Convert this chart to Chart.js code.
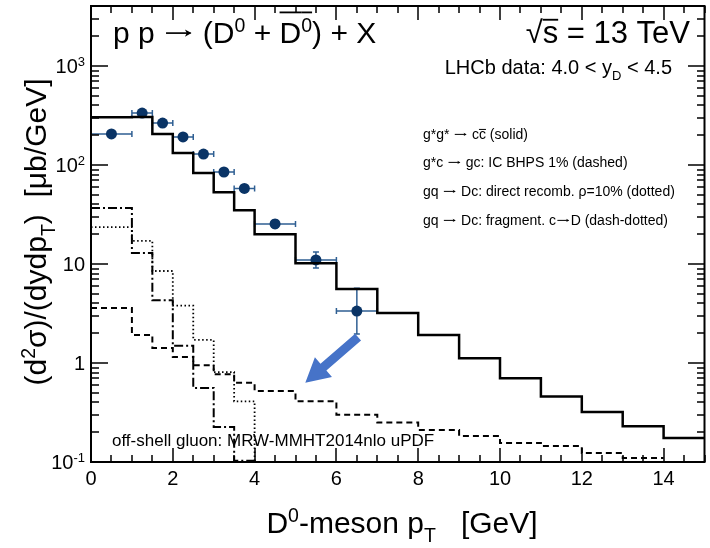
<!DOCTYPE html>
<html>
<head>
<meta charset="utf-8">
<script src="https://cdn.jsdelivr.net/npm/chart.js@4.4.1/dist/chart.umd.min.js"></script>
<style>
  body { margin: 0; background: #fff; }
  canvas { display: block; }
</style>
</head>
<body>
<canvas id="chart" width="710" height="548"></canvas>
<script>
// bin edges in GeV
const edges = [0, 1, 1.5, 2, 2.5, 3, 3.5, 4, 5, 6, 7, 8, 9, 10, 11, 12, 13, 14, 15];

// g*g* -> c cbar (solid)
const solidVals = [303, 305, 206, 132, 83, 53, 35, 20, 10.2, 5.6, 3.2, 1.92, 1.12, 0.70, 0.46, 0.32, 0.23, 0.175];
// g*c -> gc, IC BHPS 1% (dashed)
const dashedVals = [3.6, 1.92, 1.42, 1.15, 0.95, 0.77, 0.63, 0.52, 0.41, 0.30, 0.25, 0.21, 0.183, 0.156, 0.145, 0.123, 0.11];
// gq -> Dc direct recombination (dotted)
const dottedVals = [23.6, 17.1, 8.5, 3.8, 1.71, 0.81, 0.41, 0.01];
// gq -> Dc fragmentation (dash-dotted)
const dashDotVals = [36.8, 12.9, 4.3, 1.49, 0.56, 0.226, 0.103, 0.01];

// LHCb data points
const dataX = [0.5, 1.25, 1.75, 2.25, 2.75, 3.25, 3.75, 4.5, 5.5, 6.5];
const dataY = [206, 335, 265, 192, 129, 85, 58, 25.4, 11, 3.35];
const dataXErr = [0.5, 0.25, 0.25, 0.25, 0.25, 0.25, 0.25, 0.5, 0.5, 0.5];
const dataYErrLo = [12, 20, 16, 11, 8, 5, 3.5, 2.0, 1.9, 1.39];
const dataYErrHi = [12, 20, 16, 11, 8, 5, 3.5, 2.2, 2.2, 2.35];

// axis ticks
const xTicks = [0, 2, 4, 6, 8, 10, 12, 14];
const yTicks = [0.1, 1, 10, 100, 1000];
const yTickLabels = [['10', '-1'], ['1', ''], ['10', ''], ['10', '2'], ['10', '3']];

// arrow annotation (data units)
const arrowFrom = { x: 6.53, y: 1.83 };
const arrowTo = { x: 5.24, y: 0.63 };

const FONT = '"Liberation Sans", Arial, Helvetica, sans-serif';

function histPoints(vals) {
  const pts = vals.map((v, i) => ({ x: edges[i], y: v }));
  pts.push({ x: edges[vals.length], y: vals[vals.length - 1] });
  return pts;
}

// parts: [text, mode, overline]; mode '' | 'sup' | 'sub' | 'arr'
function rich(ctx, parts, x, y, size, align) {
  const info = parts.map(p => {
    const s = (p[1] === 'sup' || p[1] === 'sub') ? size * 0.65 : size;
    ctx.font = s + 'px ' + FONT;
    const w = p[1] === 'arr' ? size * 1.05 : ctx.measureText(p[0]).width;
    return { s: s, w: w };
  });
  const total = info.reduce((a, b) => a + b.w, 0);
  let cx = align === 'right' ? x - total : (align === 'center' ? x - total / 2 : x);
  ctx.textAlign = 'left';
  ctx.textBaseline = 'alphabetic';
  parts.forEach((p, i) => {
    ctx.font = info[i].s + 'px ' + FONT;
    if (p[1] === 'arr') {
      const ay = y - size * 0.33, x0 = cx + size * 0.1, x1 = cx + size * 0.95;
      const lw = Math.max(1, size * 0.055);
      ctx.fillRect(x0, ay - lw / 2, x1 - x0 - 1, lw);
      ctx.beginPath();
      ctx.moveTo(x1, ay);
      ctx.lineTo(x1 - size * 0.22, ay - size * 0.12);
      ctx.lineTo(x1 - size * 0.16, ay);
      ctx.lineTo(x1 - size * 0.22, ay + size * 0.12);
      ctx.closePath();
      ctx.fill();
      cx += info[i].w;
      return;
    }
    let dy = 0;
    if (p[1] === 'sup') dy = -size * 0.36;
    if (p[1] === 'sub') dy = size * 0.3;
    ctx.fillText(p[0], cx, y + dy);
    if (p[2]) {
      ctx.fillRect(cx, y - size * p[2], info[i].w, Math.max(1, size * 0.06));
    }
    cx += info[i].w;
  });
}

// inside tick marks on all four sides
function drawFrameTicks(ctx, chart) {
  const xs = chart.scales.x, ys = chart.scales.y, a = chart.chartArea;
  const left = Math.round(a.left), right = Math.round(a.right);
  const top = Math.round(a.top), bottom = Math.round(a.bottom);
  const tw = 1.5;
  ctx.fillStyle = '#000';
  for (let k = 0; k <= 30; k++) {
    const px = Math.round(xs.getPixelForValue(k * 0.5));
    const L = (k % 4 === 0) ? 14 : 7;
    ctx.fillRect(px - tw / 2, bottom - L, tw, L);
    ctx.fillRect(px - tw / 2, top, tw, L);
  }
  const decades = [0.1, 1, 10, 100, 1000];
  decades.forEach(d => {
    for (let m = 1; m <= 9; m++) {
      const v = m * d;
      if (v > 4040) break;
      const py = Math.round(ys.getPixelForValue(v));
      const L = m === 1 ? 17 : 8;
      ctx.fillRect(left, py - tw / 2, L, tw);
      ctx.fillRect(right - L, py - tw / 2, L, tw);
    }
  });
}

const rootStyle = {
  id: 'rootStyle',
  beforeDatasetDraw(chart, args) {
    if (args.index !== 4) return;
    const ctx = chart.ctx, xs = chart.scales.x, ys = chart.scales.y;
    const a = chart.chartArea;
    ctx.save();
    ctx.beginPath();
    ctx.rect(a.left, a.top, a.right - a.left, a.bottom - a.top);
    ctx.clip();
    ctx.strokeStyle = '#2f5f93';
    ctx.lineWidth = 1.5;
    dataX.forEach((xv, i) => {
      const px = xs.getPixelForValue(xv), py = ys.getPixelForValue(dataY[i]);
      const x0 = xs.getPixelForValue(xv - dataXErr[i]), x1 = xs.getPixelForValue(xv + dataXErr[i]);
      const y0 = ys.getPixelForValue(dataY[i] - dataYErrLo[i]), y1 = ys.getPixelForValue(dataY[i] + dataYErrHi[i]);
      ctx.beginPath();
      ctx.moveTo(x0, py); ctx.lineTo(x1, py);
      ctx.moveTo(x0, py - 3); ctx.lineTo(x0, py + 3);
      ctx.moveTo(x1, py - 3); ctx.lineTo(x1, py + 3);
      ctx.moveTo(px, y0); ctx.lineTo(px, y1);
      ctx.moveTo(px - 3, y0); ctx.lineTo(px + 3, y0);
      ctx.moveTo(px - 3, y1); ctx.lineTo(px + 3, y1);
      ctx.stroke();
    });
    ctx.restore();
  },
  afterDraw(chart) {
    const ctx = chart.ctx, xs = chart.scales.x, ys = chart.scales.y;
    const a = chart.chartArea;
    ctx.save();
    ctx.setLineDash([]);
    ctx.fillStyle = '#000';
    ctx.strokeStyle = '#000';

    // arrow
    const ax0 = xs.getPixelForValue(arrowFrom.x), ay0 = ys.getPixelForValue(arrowFrom.y);
    const ax1 = xs.getPixelForValue(arrowTo.x), ay1 = ys.getPixelForValue(arrowTo.y);
    const len = Math.hypot(ax1 - ax0, ay1 - ay0);
    const ux = (ax1 - ax0) / len, uy = (ay1 - ay0) / len, nx = -uy, ny = ux;
    const hl = 24, hw = 13, sw = 4.5;
    const bx = ax1 - ux * hl, by = ay1 - uy * hl;
    ctx.fillStyle = '#4673c8';
    ctx.beginPath();
    ctx.moveTo(ax0 + nx * sw, ay0 + ny * sw);
    ctx.lineTo(bx + nx * sw, by + ny * sw);
    ctx.lineTo(bx + nx * hw, by + ny * hw);
    ctx.lineTo(ax1, ay1);
    ctx.lineTo(bx - nx * hw, by - ny * hw);
    ctx.lineTo(bx - nx * sw, by - ny * sw);
    ctx.lineTo(ax0 - nx * sw, ay0 - ny * sw);
    ctx.closePath();
    ctx.fill();
    ctx.fillStyle = '#000';

    // frame
    ctx.lineWidth = 2;
    ctx.strokeRect(a.left, a.top, a.right - a.left, a.bottom - a.top);

    drawFrameTicks(ctx, chart);
    ctx.fillStyle = '#000';

    // tick labels
    ctx.font = '20px ' + FONT;
    ctx.textAlign = 'center';
    ctx.textBaseline = 'alphabetic';
    xTicks.forEach(v => ctx.fillText(String(v), xs.getPixelForValue(v), 485));
    yTicks.forEach((v, i) => {
      const py = ys.getPixelForValue(v);
      rich(ctx, [[yTickLabels[i][0], ''], [yTickLabels[i][1], 'sup']], 85, py + 7, 20, 'right');
    });

    // axis titles
    rich(ctx, [['D', ''], ['0', 'sup'], ['-meson p', ''], ['T', 'sub'], ['   [GeV]', '']], 402, 533, 30, 'center');
    ctx.save();
    ctx.translate(46, 232);
    ctx.rotate(-Math.PI / 2);
    rich(ctx, [['(d', ''], ['2', 'sup'], ['\u03c3)/(dydp', ''], ['T', 'sub'], [')  [\u03bcb/GeV]', '']], 0, 0, 30, 'center');
    ctx.restore();

    // header texts
    rich(ctx, [['p p ', ''], ['\u2192', 'arr'], [' (D', ''], ['0', 'sup'], [' + ', ''], ['D', '', 1.05], ['0', 'sup', 1.05], [') + X', '']], 113, 43, 30, 'left');
    rich(ctx, [['\u221a', ''], ['s', '', 0.78], [' = 13 TeV', '']], 690, 43, 31, 'right');
    rich(ctx, [['LHCb data: 4.0 < y', ''], ['D', 'sub'], [' < 4.5', '']], 672, 74, 20, 'right');

    // legend
    const lx = 423, fs = 14;
    rich(ctx, [['g*g* ', ''], ['\u2192', 'arr'], [' c', ''], ['c', '', 0.72], [' (solid)', '']], lx, 139, fs, 'left');
    rich(ctx, [['g*c ', ''], ['\u2192', 'arr'], [' gc: IC BHPS 1% (dashed)', '']], lx, 167, fs, 'left');
    rich(ctx, [['gq ', ''], ['\u2192', 'arr'], [' Dc: direct recomb. \u03c1=10% (dotted)', '']], lx, 196, fs, 'left');
    rich(ctx, [['gq ', ''], ['\u2192', 'arr'], [' Dc: fragment. c', ''], ['\u2192', 'arr'], ['D (dash-dotted)', '']], lx, 225, fs, 'left');

    rich(ctx, [['off-shell gluon: MRW-MMHT2014nlo uPDF', '']], 112, 446, 17, 'left');
    ctx.restore();
  }
};

new Chart(document.getElementById('chart'), {
  type: 'line',
  data: {
    datasets: [
      { data: histPoints(solidVals), borderColor: '#000', borderWidth: 2.5, stepped: true, pointRadius: 0, fill: false },
      { data: histPoints(dashedVals), borderColor: '#000', borderWidth: 2, borderDash: [6, 4], stepped: true, pointRadius: 0, fill: false },
      { data: histPoints(dottedVals), borderColor: '#000', borderWidth: 1.8, borderDash: [1.5, 2.5], stepped: true, pointRadius: 0, fill: false },
      { data: histPoints(dashDotVals), borderColor: '#000', borderWidth: 2, borderDash: [9, 3, 2, 3], stepped: true, pointRadius: 0, fill: false },
      { type: 'scatter', data: dataX.map((x, i) => ({ x: x, y: dataY[i] })), pointRadius: 5.5, pointBackgroundColor: '#0a3466', pointBorderWidth: 0, showLine: false }
    ]
  },
  options: {
    responsive: false,
    animation: false,
    devicePixelRatio: 1,
    layout: { padding: { left: 91, top: 6, right: 1, bottom: 86 } },
    plugins: { legend: { display: false }, tooltip: { enabled: false } },
    scales: {
      x: { type: 'linear', min: 0, max: 15, display: false },
      y: { type: 'logarithmic', min: 0.1, max: 4040, display: false }
    }
  },
  plugins: [rootStyle]
});
</script>
</body>
</html>
